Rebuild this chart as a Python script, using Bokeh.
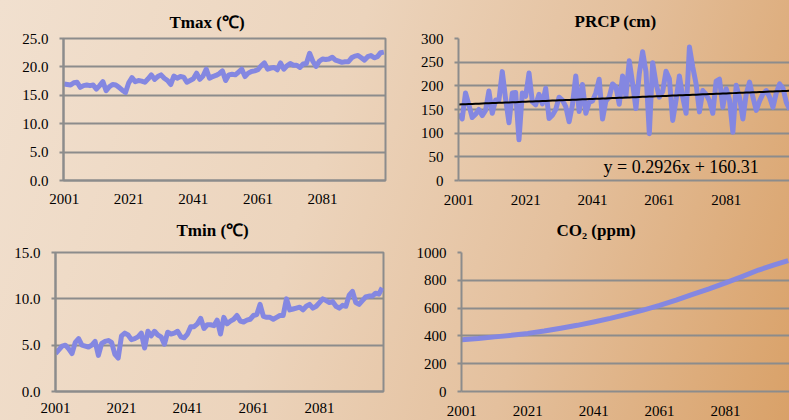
from bokeh.plotting import figure
from bokeh.layouts import column, row
from bokeh.models import Range1d, FixedTicker, Label, NumeralTickFormatter
from bokeh.embed import file_html
from bokeh.resources import INLINE

years = list(range(2001, 2101))
x_ticks = [2001, 2021, 2041, 2061, 2081]

tmax = [17.0, 16.9, 16.8, 17.2, 17.3, 16.4, 16.7, 16.8, 16.7, 16.8,
        16.1, 16.7, 17.4, 15.8, 16.5, 16.9, 16.8, 16.4, 15.9, 15.5,
        17.2, 18.1, 17.4, 17.6, 17.5, 17.3, 17.9, 18.6, 17.8, 18.3,
        18.6, 18.0, 17.6, 16.9, 18.4, 18.0, 18.3, 18.2, 17.3, 17.6,
        17.9, 18.9, 17.8, 18.4, 19.6, 18.0, 18.3, 18.5, 18.8, 19.3,
        17.6, 18.6, 18.7, 18.6, 19.1, 19.6, 18.3, 18.9, 19.2, 19.3,
        19.5, 20.2, 20.7, 19.6, 19.8, 19.9, 19.5, 20.7, 19.6, 20.2,
        20.6, 20.3, 20.3, 19.9, 20.5, 20.6, 22.4, 21.0, 20.1, 21.0,
        21.4, 21.3, 21.4, 21.7, 21.2, 21.0, 20.8, 20.9, 20.9, 21.6,
        21.9, 22.0, 21.6, 21.2, 21.8, 22.0, 21.6, 21.8, 22.5, 22.6]

tmin = [4.1, 4.5, 4.9, 5.0, 4.6, 4.1, 5.3, 5.7, 5.0, 4.9,
        4.8, 5.0, 5.4, 3.9, 5.2, 5.4, 5.5, 5.3, 4.0, 3.6,
        6.0, 6.3, 6.1, 5.6, 5.7, 5.9, 6.3, 4.7, 6.5, 6.0,
        6.5, 6.1, 5.9, 5.1, 6.4, 6.2, 6.3, 6.5, 5.9, 5.8,
        6.2, 7.0, 7.0, 7.3, 7.9, 6.8, 7.2, 7.2, 7.1, 7.7,
        6.2, 8.0, 7.3, 7.6, 7.8, 8.2, 7.6, 7.5, 7.7, 7.8,
        8.2, 8.3, 9.4, 8.1, 8.0, 8.0, 7.8, 8.0, 8.2, 8.2,
        10.0, 8.8, 8.9, 9.0, 9.1, 8.8, 9.2, 9.4, 9.0, 9.2,
        9.6, 10.0, 9.8, 9.6, 9.7, 9.2, 9.0, 9.3, 9.2, 10.4,
        10.8, 9.6, 9.4, 9.8, 10.2, 10.3, 10.3, 10.6, 10.5, 11.2]

prcp = [141, 130, 185, 160, 133, 140, 150, 137, 148, 189,
        142, 170, 170, 230, 172, 122, 185, 186, 86, 185,
        178, 227, 166, 160, 182, 162, 195, 131, 138, 150,
        176, 170, 156, 124, 160, 221, 146, 203, 142, 165,
        168, 185, 214, 130, 168, 176, 204, 198, 161, 221,
        178, 253, 205, 152, 226, 272, 230, 99, 249, 205,
        176, 188, 231, 215, 127, 170, 221, 176, 142, 282,
        240, 204, 145, 190, 182, 168, 142, 210, 214, 155,
        194, 170, 102, 201, 175, 130, 183, 208, 176, 148,
        168, 183, 190, 176, 155, 185, 204, 195, 165, 150]

co2_years = [2001, 2006, 2011, 2016, 2021, 2026, 2031, 2036, 2041, 2046, 2051,
             2056, 2061, 2066, 2071, 2076, 2081, 2086, 2091, 2096, 2100]
co2 = [372, 381, 393, 404, 418, 435, 455, 476, 500, 526, 555,
       586, 619, 657, 698, 738, 781, 827, 874, 912, 942]

trend_slope = 0.2926
trend_intercept = 160.31
trend_label = "y = 0.2926x + 160.31"

LINE = "#8487E1"
GRID = "#8C8C8C"
FONT = "Liberation Serif"


def panel(w, h, bl, br, bt, bb, xr, yr, yticks, yfmt, outline, xstand):
    p = figure(width=w, height=h, x_range=Range1d(*xr), y_range=Range1d(*yr),
               output_backend="svg", toolbar_location=None,
               min_border_left=bl, min_border_right=br,
               min_border_top=bt, min_border_bottom=bb)
    p.background_fill_alpha = 0
    p.border_fill_alpha = 0
    p.outline_line_color = GRID if outline else None
    p.outline_line_width = 2
    p.xgrid.visible = False
    p.ygrid.ticker = FixedTicker(ticks=yticks)
    p.ygrid.grid_line_color = GRID
    p.ygrid.grid_line_width = 2
    xa = p.xaxis[0]
    ya = p.yaxis[0]
    xa.ticker = FixedTicker(ticks=x_ticks)
    xa.major_tick_line_color = None
    xa.minor_tick_line_color = None
    xa.major_tick_in = 0
    xa.major_tick_out = 0
    xa.minor_tick_in = 0
    xa.minor_tick_out = 0
    xa.axis_line_color = GRID
    xa.axis_line_width = 2
    xa.major_label_standoff = xstand
    ya.ticker = FixedTicker(ticks=yticks)
    ya.formatter = NumeralTickFormatter(format=yfmt)
    ya.minor_tick_line_color = None
    ya.major_tick_in = 0
    ya.major_tick_out = 4
    ya.major_tick_line_color = GRID
    ya.major_tick_line_width = 2
    ya.axis_line_color = GRID
    ya.axis_line_width = 2
    ya.major_label_standoff = 11
    for a in (xa, ya):
        a.major_label_text_font = FONT
        a.major_label_text_font_size = "15px"
        a.major_label_text_color = "#000000"
    return p


def title(p, text, offset, standoff, valign):
    t = p.title
    t.text = text
    t.align = "left"
    t.vertical_align = valign
    t.offset = offset
    t.standoff = standoff
    t.text_font = FONT
    t.text_font_size = "17px"
    t.text_font_style = "bold"
    t.text_color = "#000000"


HT = 209
HB = 211

# Tmax
p1 = panel(410, HT, 63, 25, 38, 28, (2000.8, 2100.5), (0, 25),
           [0, 5, 10, 15, 20, 25], "0.0", True, 13)
p1.line(years, tmax, line_color=LINE, line_width=5, line_join="round")
title(p1, "Tmax (℃)", 106, 14, "bottom")

# PRCP
p2 = panel(379, HT, 48, 0, 38, 29, (2000.9, 2099.95), (0, 300),
           [0, 50, 100, 150, 200, 250, 300], "0", False, 14)
p2.line(years, prcp, line_color=LINE, line_width=5, line_join="round")
trend = [trend_slope * (yr - years[0] + 1) + trend_intercept for yr in years]
p2.line(years, trend, line_color="#000000", line_width=2)
title(p2, "PRCP (cm)", 116, 16, "bottom")
p2.add_layout(Label(x=145, y=14, x_units="screen", y_units="screen", text=trend_label,
                    text_font=FONT, text_font_size="18px", text_align="left",
                    text_baseline="alphabetic", text_color="#000000"))

# Tmin
p3 = panel(410, HB, 55, 27, 43, 26, (2001, 2100.4), (0, 15),
           [0, 5, 10, 15], "0.0", True, 11)
p3.line(years, tmin, line_color=LINE, line_width=5, line_join="round")
title(p3, "Tmin (℃)", 121, 22, "top")

# CO2
p4 = panel(379, HB, 51, 0, 43, 29, (2000.9, 2100.4), (0, 1000),
           [0, 200, 400, 600, 800, 1000], "0", False, 14)
p4.line(co2_years, co2, line_color=LINE, line_width=5, line_join="round")
title(p4, "CO₂ (ppm)", 95, 22, "top")

root = column(row(p1, p2), row(p3, p4),
              styles={"background": "linear-gradient(108deg, #f1e0cf 0%, #ecd4bc 40%, #e4c09d 68%, #d9a168 100%)"})

open("out.html", "w").write(file_html(root, INLINE))
